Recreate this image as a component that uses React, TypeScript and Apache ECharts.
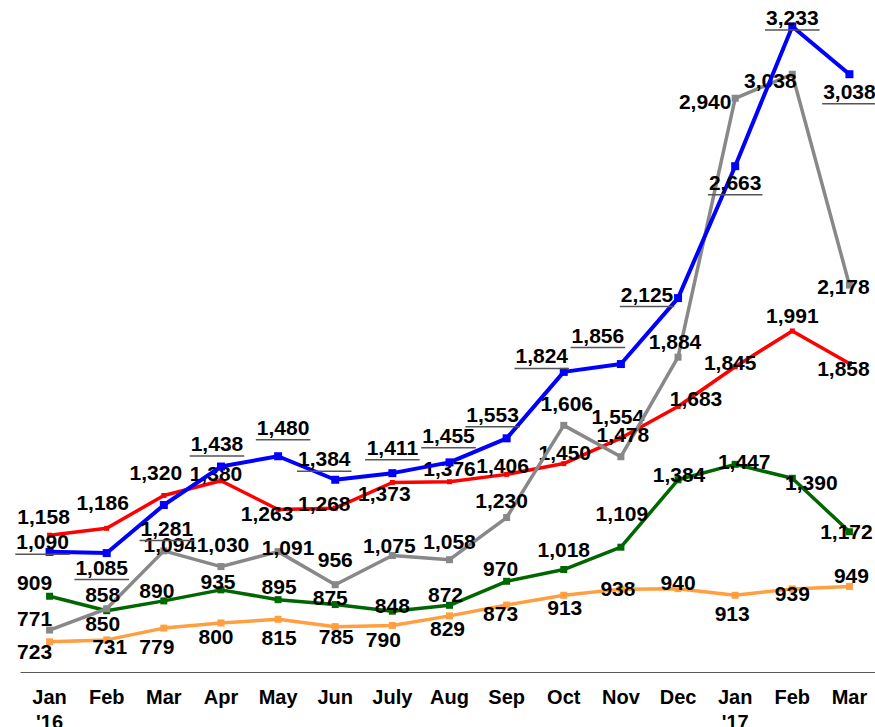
import React, { useEffect, useRef } from 'react';
import * as echarts from 'echarts';

const categories = ["Jan\n'16", 'Feb', 'Mar', 'Apr', 'May', 'Jun', 'July', 'Aug', 'Sep', 'Oct', 'Nov', 'Dec', "Jan\n'17", 'Feb', 'Mar'];

const blueValues = [1090, 1085, 1281, 1438, 1480, 1384, 1411, 1455, 1553, 1824, 1856, 2125, 2663, 3233, 3038];
const redValues = [1158, 1186, 1320, 1380, 1263, 1268, 1373, 1376, 1406, 1450, 1554, 1683, 1845, 1991, 1858];
const grayValues = [771, 858, 1094, 1030, 1091, 956, 1075, 1058, 1230, 1606, 1478, 1884, 2940, 3038, 2178];
const greenValues = [909, 850, 890, 935, 895, 875, 848, 872, 970, 1018, 1109, 1384, 1447, 1390, 1172];
const orangeValues = [723, 731, 779, 800, 815, 785, 790, 829, 873, 913, 938, 940, 913, 939, 949];

// label placement (offset of label centre from point, px)
const blueLabelOffsets = [[-7, -10], [-5, 14], [3, 23], [-4, -23], [5, -29], [-11, -21], [0, -26], [-1, -27], [-14, -24], [-22, -16], [-23, -29], [-31, -4], [0, 16], [0, -9], [0, 17]];
const redLabelOffsets = [[-6, -19], [-4, -26], [-8, -23], [-5, -7], [-11, 4], [-11, -5], [-8, 11], [0, -13], [-4, -9], [1, -11], [-3, -22], [18, -8], [-5, -4], [0, -15], [-6, 5]];
const grayLabelOffsets = [[-15, -12], [-4, -14], [6, -6], [2, -22], [10, -4], [0, -25], [-3, -10], [0, -18], [-5, -17], [3, -22], [2, -22], [-3, -16], [-30, 3], [-22, 6], [-6, 1]];
const greenLabelOffsets = [[-15, -14], [-4, 13], [-7, -10], [-3, -8], [1, -13], [-5, -7], [0, -6], [-4, -11], [-6, -13], [0, -20], [1, -34], [1, -5], [9, -3], [19, 4], [-3, 0]];
const orangeLabelOffsets = [[-15, 10], [3, 7], [-7, 18], [-5, 14], [1, 18], [1, 10], [-9, 14], [-2, 13], [-6, 8], [1, 12], [-3, -1], [0, -6], [-3, 18], [0, 5], [2, -11]];

const FONT = '"Liberation Sans", Arial, Helvetica, sans-serif';
const FONT_SIZE = 21;
const AXIS_FONT_SIZE = 20;

function fmt(v: number) {
  return v.toLocaleString('en-US');
}

function measure(text: string) {
  const c = document.createElement('canvas');
  const ctx = c.getContext('2d');
  if (!ctx) return 53;
  ctx.font = `bold ${FONT_SIZE}px ${FONT}`;
  return ctx.measureText(text).width;
}

function makeSeries(name: string, values: number[], offsets: number[][], color: string, z: number, underline: boolean, symbolSize: number, lineWidth: number) {
  const uw = measure('1,090') + 2;
  return {
    type: 'line',
    name,
    z,
    silent: true,
    symbol: 'rect',
    symbolSize,
    showAllSymbol: true,
    lineStyle: { color, width: lineWidth },
    itemStyle: { color },
    emphasis: { disabled: true },
    data: values,
    label: {
      show: true,
      position: 'inside',
      color: '#000',
      fontFamily: FONT,
      fontSize: FONT_SIZE,
      fontWeight: 'bold',
      formatter: (p: any) => (underline ? `{t|${fmt(p.value)}}\n{u|}` : fmt(p.value)),
      rich: {
        t: { color: '#000', fontFamily: FONT, fontSize: FONT_SIZE, fontWeight: 'bold', lineHeight: 21 },
        u: { width: uw, height: 1.5, lineHeight: 4, backgroundColor: '#555555' },
      },
    },
    labelLayout: (params: any) => ({
      dx: offsets[params.dataIndex][0],
      dy: offsets[params.dataIndex][1] + (underline ? 2 : 0),
      fontSize: FONT_SIZE,
    }),
  };
}

export default function App() {
  const ref = useRef<HTMLDivElement>(null);
  useEffect(() => {
    if (!ref.current) return;
    const chart = echarts.init(ref.current, undefined, { renderer: 'svg' });
    chart.setOption({
      animation: false,
      backgroundColor: '#ffffff',
      grid: { left: 21, top: 10, width: 857, bottom: 55, containLabel: false, outerBoundsMode: 'none' },
      xAxis: {
        type: 'category',
        data: categories,
        boundaryGap: true,
        axisLine: { show: true, lineStyle: { color: '#595959', width: 1.2 } },
        axisTick: { show: false },
        axisLabel: {
          interval: 0,
          color: '#000',
          fontFamily: FONT,
          fontSize: AXIS_FONT_SIZE,
          fontWeight: 'bold',
          lineHeight: 25,
          margin: 12,
        },
        splitLine: { show: false },
      },
      yAxis: {
        type: 'value',
        min: 600,
        max: 3300,
        show: false,
        splitLine: { show: false },
      },
      series: [
        makeSeries('orange', orangeValues, orangeLabelOffsets, '#FF9F40', 2, false, 7, 3.5),
        makeSeries('green', greenValues, greenLabelOffsets, '#006600', 3, false, 7, 3.5),
        makeSeries('red', redValues, redLabelOffsets, '#FF0000', 4, false, 5, 3.5),
        makeSeries('gray', grayValues, grayLabelOffsets, '#888888', 5, false, 7, 3.5),
        makeSeries('blue', blueValues, blueLabelOffsets, '#0000FF', 6, true, 8, 4),
      ],
    });
    return () => chart.dispose();
  }, []);
  return <div ref={ref} style={{ position: 'absolute', left: 0, top: 0, width: 875, height: 727 }} />;
}
